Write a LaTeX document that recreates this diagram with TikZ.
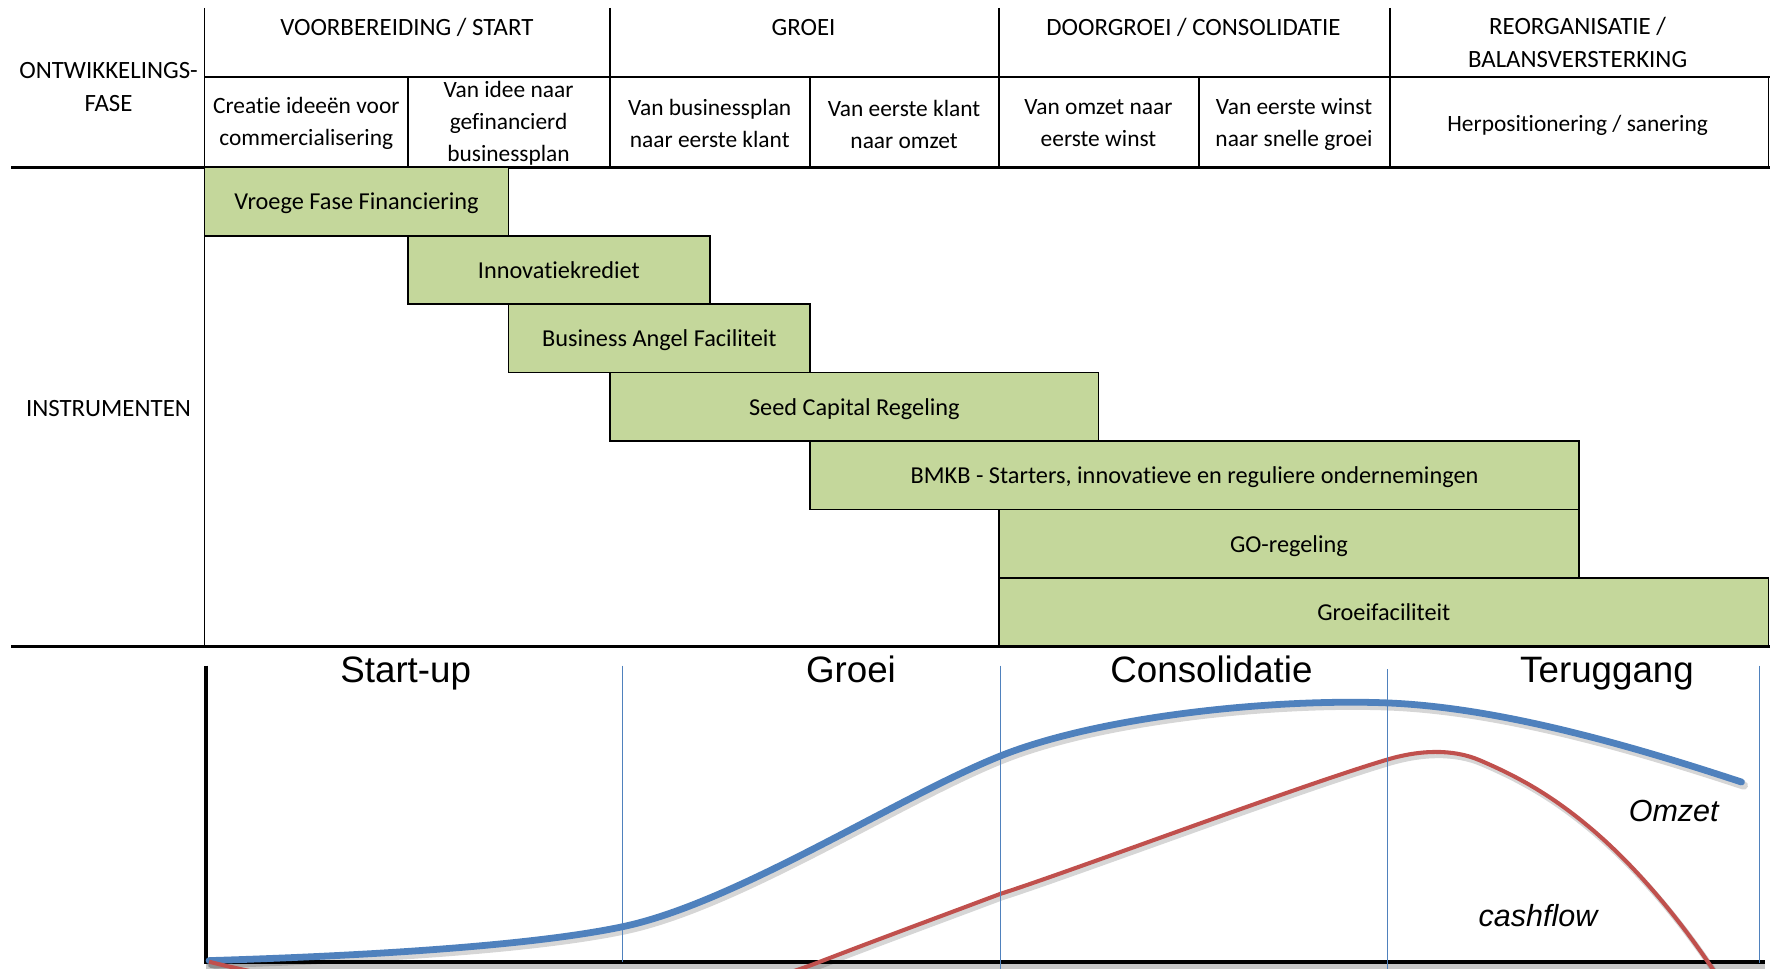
\documentclass[tikz,border=0pt]{standalone}
\usepackage{fontspec}
\setmainfont{Carlito}[Ligatures=CommonOff]
\newfontfamily\chartfont{Liberation Sans}
\definecolor{bargreen}{HTML}{C4D79B}
\definecolor{omzetblue}{HTML}{4F81BD}
\definecolor{cashred}{HTML}{C0504D}
\def\omzetpath{(185,850) .. controls (350,845) and (480,835) .. (551,820)
  .. controls (651,799) and (795,705) .. (885,669)
  .. controls (975,633) and (1130,618) .. (1228,622)
  .. controls (1326,626) and (1441,659) .. (1541,692)}
\def\cashpath{(185,851) .. controls (300,880) and (560,915) .. (723,852)
  .. controls (780,830) and (840,808) .. (885,791)
  .. controls (945,772) and (1150,695) .. (1228,672)
  .. controls (1255,664) and (1285,662) .. (1310,673)
  .. controls (1345,688) and (1375,705) .. (1410,735)
  .. controls (1445,765) and (1490,815) .. (1530,880)
  -- (1560,940)}
\begin{document}
\begin{tikzpicture}[x=1pt,y=-1pt,
  tabtext/.style={font=\fontsize{20.7}{28}\selectfont, align=center, inner sep=0pt},
  capstext/.style={font=\fontsize{22}{28.5}\selectfont, align=center, inner sep=0pt},
  onelinetext/.style={text height=18.5pt, text depth=3.5pt},
  barbox/.style={draw=black, line width=1.5pt, fill=bargreen, anchor=north west,
    inner sep=0pt, outer sep=0pt, minimum height=60.57pt,
    font=\fontsize{21.5}{28}\selectfont, text height=18.5pt, text depth=3.5pt},
  thinrule/.style={line width=1.5pt, black},
  thickrule/.style={line width=2.6pt, black},
  phaselabel/.style={font=\chartfont\fontsize{32.5}{38}\selectfont, anchor=base, inner sep=0pt},
  curvelabel/.style={font=\chartfont\itshape\fontsize{27}{32}\selectfont, anchor=base, inner sep=0pt},
  phaseline/.style={line width=1pt, omzetblue},
  shadowline/.style={black, opacity=0.16, line cap=round},
]
\useasboundingbox (0,0) rectangle (1568,857);

% ---------- table rules ----------
\draw[thinrule] (181,7) -- (181,572);
\draw[thinrule] (540,7) -- (540,148);
\draw[thinrule] (884,7) -- (884,148);
\draw[thinrule] (1230,7) -- (1230,148);
\draw[thinrule] (1565,68) -- (1565,148);
\draw[thinrule] (361,68) -- (361,148);
\draw[thinrule] (717,68) -- (717,148);
\draw[thinrule] (1061,68) -- (1061,148);
\draw[line width=2pt] (181,68) -- (1566,68);
\draw[thickrule] (10,148) -- (1566,148);

% ---------- left column ----------
\node[capstext] (fase) at (96,77) {ONTWIKKELINGS-\\FASE};
\node[capstext, onelinetext] (instr) at (96,361) {INSTRUMENTEN};

% ---------- phase headers ----------
\node[capstext, onelinetext] (h1) at (360,24) {VOORBEREIDING / START};
\node[capstext, onelinetext] (h2) at (711,24) {GROEI};
\node[capstext, onelinetext] (h3) at (1056,24) {DOORGROEI / CONSOLIDATIE};
\node[capstext] (h4) at (1396,37.5) {REORGANISATIE /\\BALANSVERSTERKING};

% ---------- sub phases ----------
\node[tabtext] (s1) at (271,109) {Creatie ideeën voor\\commercialisering};
\node[tabtext] (s2) at (450,109) {Van idee naar\\gefinancierd\\businessplan};
\node[tabtext] (s3) at (628,109) {Van businessplan\\naar eerste klant};
\node[tabtext] (s4) at (800,110) {Van eerste klant\\naar omzet};
\node[tabtext] (s5) at (972,109) {Van omzet naar\\eerste winst};
\node[tabtext] (s6) at (1145,110) {Van eerste winst\\naar snelle groei};
\node[tabtext, onelinetext] (s7) at (1396,109) {Herpositionering / sanering};

% ---------- instrument bars ----------
\node[barbox, minimum width=269pt] (b1) at (181,148) {Vroege Fase Financiering};
\node[barbox, minimum width=267pt] (b2) at (361,208.57) {Innovatiekrediet};
\node[barbox, minimum width=267pt] (b3) at (450,269.14) {Business Angel Faciliteit};
\node[barbox, minimum width=432pt] (b4) at (540,329.71) {Seed Capital Regeling};
\node[barbox, minimum width=680pt] (b5) at (717,390.29) {BMKB - Starters, innovatieve en reguliere ondernemingen};
\node[barbox, minimum width=513pt] (b6) at (884,450.86) {GO-regeling};
\node[barbox, minimum width=681pt] (b7) at (884,511.43) {Groeifaciliteit};

\draw[thickrule] (10,572) -- (1566,572);

% ---------- chart ----------
\begin{scope}
\clip (150,576) rectangle (1568,857);
% axis shadow
\draw[line width=5pt, black!22] (182,855.5) -- (1562,855.5);
% axes
\draw[line width=3.6pt, black] (182,589) -- (182,853);
\draw[line width=3.6pt, black] (181,851) -- (1562,851);

% curve shadows
\begin{scope}[shift={(2,3)}]
\draw[shadowline, line width=7.5pt] \omzetpath;
\draw[shadowline, line width=5pt] \cashpath;
\end{scope}

% omzet and cashflow
\draw[line width=6pt, omzetblue, line cap=round] \omzetpath;
\draw[line width=3.6pt, cashred] \cashpath;

% phase separators
\draw[phaseline] (551,589) -- (551,851);
\draw[phaseline] (885,589) -- (885,857);
\draw[phaseline] (1228,592) -- (1228,857);
\draw[phaseline] (1557,589) -- (1557,852);
\end{scope}

\node[phaselabel] (pStart) at (359,604) {Start-up};
\node[phaselabel] (pGroei) at (753,604) {Groei};
\node[phaselabel] (pCons) at (1072,604) {Consolidatie};
\node[phaselabel] (pTerug) at (1422,604) {Teruggang};
\node[curvelabel] (lOmzet) at (1481,727) {Omzet};
\node[curvelabel] (lCash) at (1361,820) {cashflow};
\end{tikzpicture}
\end{document}
